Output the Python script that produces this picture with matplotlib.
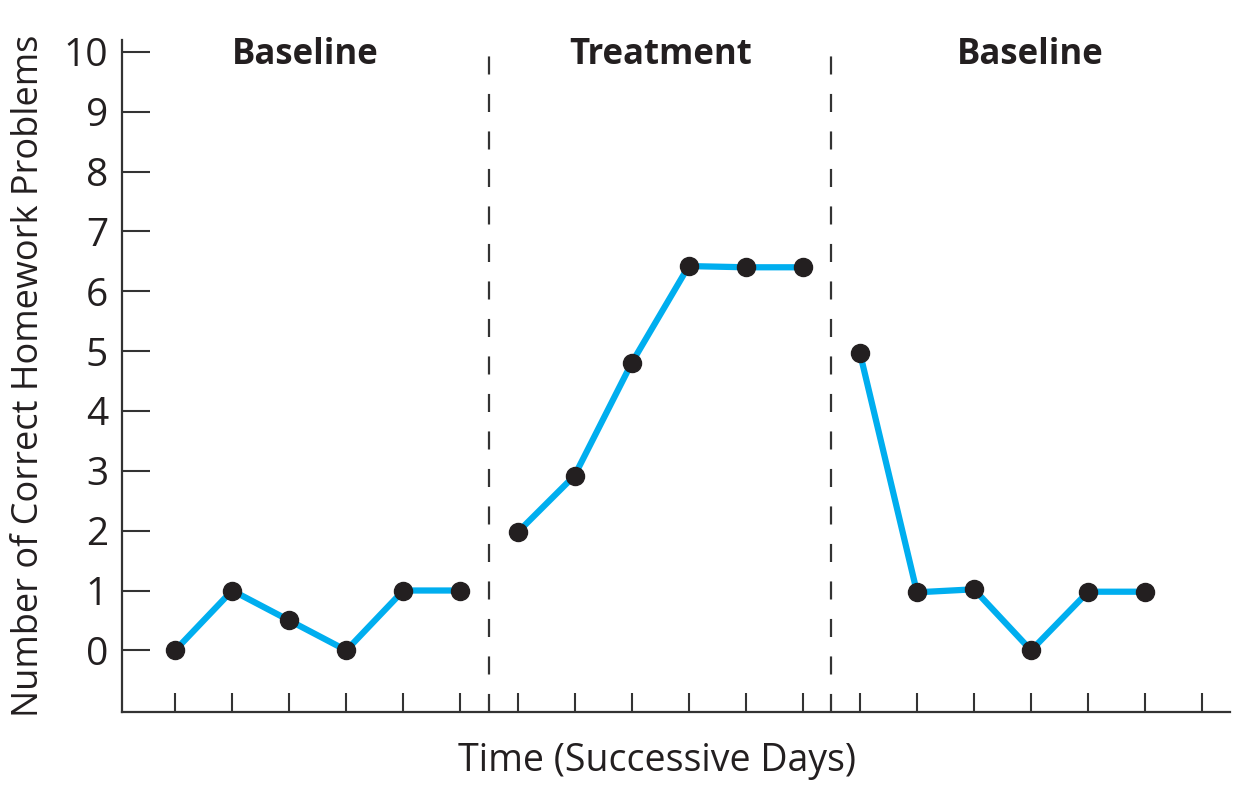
import matplotlib.pyplot as plt

# values
days_base1 = [1, 2, 3, 4, 5, 6]
vals_base1 = [0, 1, 0.5, 0, 1, 1]
days_treat = [7, 8, 9, 10, 11, 12]
vals_treat = [1.97, 2.92, 4.8, 6.42, 6.4, 6.4]
days_base2 = [13, 14, 15, 16, 17, 18]
vals_base2 = [4.97, 0.97, 1.02, 0, 0.98, 0.98]

phase_labels = ["Baseline", "Treatment", "Baseline"]
phase_breaks = [6.5, 12.5]
x_ticks = list(range(1, 20))
y_ticks = list(range(0, 11))

LINE = "#00aeef"
DOT = "#231f20"
INK = "#231f20"

plt.rcParams["font.family"] = ["Open Sans", "DejaVu Sans"]
plt.rcParams["lines.scale_dashes"] = False

fig = plt.figure(figsize=(12.39, 8.06), dpi=100)
ax = fig.add_axes([0.0985, 0.1166, 0.894, 0.834])

for xs, ys in [(days_base1, vals_base1), (days_treat, vals_treat), (days_base2, vals_base2)]:
    ax.plot(xs, ys, color=LINE, lw=4.5, zorder=2, solid_capstyle="round")
    ax.plot(xs, ys, "o", color=DOT, ms=13, zorder=3)

xmin, xmax = 0.07, 19.48
ymin, ymax = -1.03, 10.2
for b in phase_breaks:
    ax.plot([b, b], [ymin, ymax + 0.05], color="#333333", lw=1.6,
            linestyle=(0, (13, 14)), clip_on=False, zorder=1)

bounds = [xmin] + phase_breaks + [xmax]
for i, lab in enumerate(phase_labels):
    ax.text((bounds[i] + bounds[i + 1]) / 2, 9.95, lab, ha="center", va="center",
            fontsize=25, fontweight="bold", color=INK)

ax.set_xlim(xmin, xmax)
ax.set_ylim(ymin, ymax)
ax.set_xticks(x_ticks)
ax.set_xticklabels([])
ax.set_yticks(y_ticks)
ax.tick_params(axis="x", direction="in", length=14, width=1.5, color="#333333")
ax.tick_params(axis="y", direction="in", length=20, width=1.5, color="#333333",
               labelsize=28, labelcolor=INK, pad=10)

for s in ["top", "right"]:
    ax.spines[s].set_visible(False)
for s in ["left", "bottom"]:
    ax.spines[s].set_linewidth(1.6)
    ax.spines[s].set_color("#333333")

ax.set_xlabel("Time (Successive Days)", fontsize=27, color=INK)
ax.xaxis.set_label_coords(0.483, -0.045, transform=ax.transAxes)
ax.xaxis.label.set_va("top")
ax.set_ylabel("Number of Correct Homework Problems", fontsize=26, color=INK, labelpad=12)

fig.savefig("out.png", dpi=100)
